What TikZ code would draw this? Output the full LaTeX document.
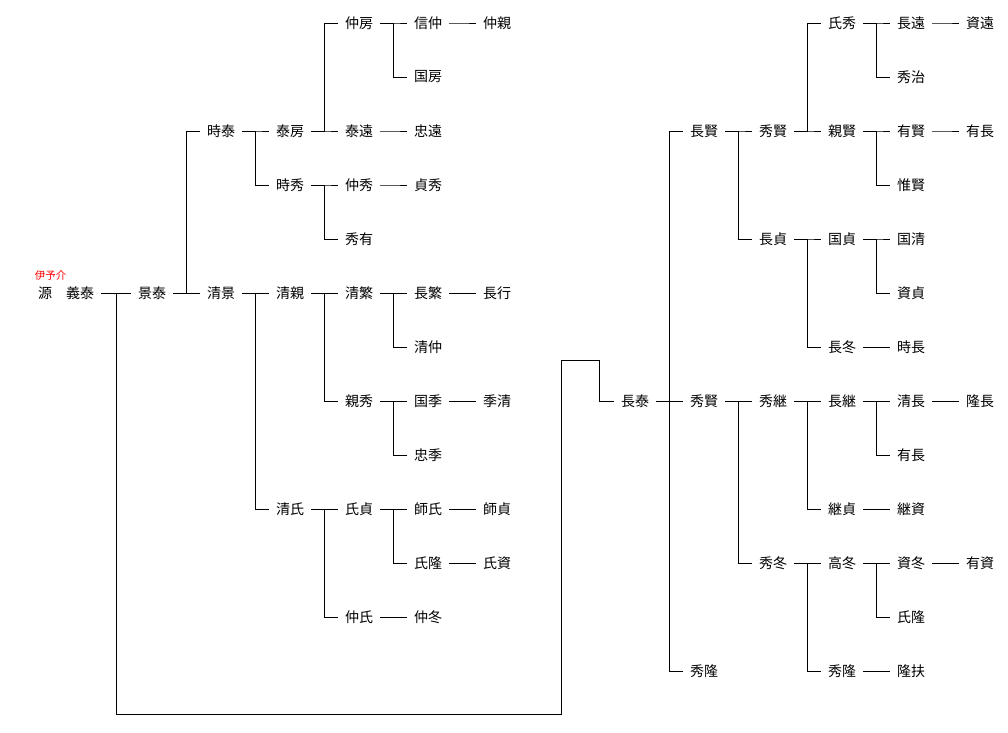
\documentclass[tikz,border=0pt]{standalone}
\usepackage{fontspec}
\newfontfamily\jp{Noto Sans CJK JP}
\begin{document}
\begin{tikzpicture}[x=1pt,y=-1pt,
  person/.style={font=\jp\fontsize{14}{14}\selectfont, inner sep=0pt, anchor=center},
  note/.style={font=\jp\fontsize{10.5}{10.5}\selectfont, inner sep=0pt, text=red},
  link/.style={draw=black, line width=0.9pt}]
\useasboundingbox[fill=white] (0,0) rectangle (1008,732);
\newcommand\kin[2]{\draw[link] ([xshift=7pt]#1.east) -- ++(13.5pt,0) |- ([xshift=-7pt]#2.west);}
% ---- left tree
\node[note] (iyo) at (50.5,276) {伊予介};
\node[person] (yosh) at (66,293) {源　義泰};
\node[person] (kage) at (152,293) {景泰};
\node[person] (toki) at (221,131) {時泰};
\node[person] (kiyokage) at (221,293) {清景};
\node[person] (yasufusa) at (290,131) {泰房};
\node[person] (tokihide) at (290,185) {時秀};
\node[person] (kiyochika) at (290,293) {清親};
\node[person] (kiyouji) at (290,509) {清氏};
\node[person] (nakafusa) at (359,23) {仲房};
\node[person] (yasutoo) at (359,131) {泰遠};
\node[person] (nakahide) at (359,185) {仲秀};
\node[person] (hidearі) at (359,239) {秀有};
\node[person] (kiyoshige) at (359,293) {清繁};
\node[person] (chikahide) at (359,401) {親秀};
\node[person] (ujisada) at (359,509) {氏貞};
\node[person] (nakauji) at (359,617) {仲氏};
\node[person] (nobunaka) at (428,23) {信仲};
\node[person] (kunifusa) at (428,77) {国房};
\node[person] (tadatoo) at (428,131) {忠遠};
\node[person] (sadahide) at (428,185) {貞秀};
\node[person] (nagashige) at (428,293) {長繁};
\node[person] (kiyonaka) at (428,347) {清仲};
\node[person] (kunisue) at (428,401) {国季};
\node[person] (tadasue) at (428,455) {忠季};
\node[person] (morouji) at (428,509) {師氏};
\node[person] (ujitaka) at (428,563) {氏隆};
\node[person] (nakafuyu) at (428,617) {仲冬};
\node[person] (nakachika) at (497,23) {仲親};
\node[person] (nagayuki) at (497,293) {長行};
\node[person] (suekiyo) at (497,401) {季清};
\node[person] (morosada) at (497,509) {師貞};
\node[person] (ujisuke) at (497,563) {氏資};
% ---- right tree
\node[person] (nagayasu) at (635,401) {長泰};
\node[person] (nagakata) at (704,131) {長賢};
\node[person] (hidekata) at (704,401) {秀賢};
\node[person] (hidetaka) at (704,671) {秀隆};
\node[person] (hidekatab) at (773,131) {秀賢};
\node[person] (nagasada) at (773,239) {長貞};
\node[person] (hidetsugu) at (773,401) {秀継};
\node[person] (hidefuyu) at (773,563) {秀冬};
\node[person] (ujihide) at (842,23) {氏秀};
\node[person] (chikakata) at (842,131) {親賢};
\node[person] (kunisada) at (842,239) {国貞};
\node[person] (nagafuyu) at (842,347) {長冬};
\node[person] (nagatsugu) at (842,401) {長継};
\node[person] (tsugusada) at (842,509) {継貞};
\node[person] (takafuyu) at (842,563) {高冬};
\node[person] (hidetakab) at (842,671) {秀隆};
\node[person] (nagatoo) at (911,23) {長遠};
\node[person] (hideharu) at (911,77) {秀治};
\node[person] (arikata) at (911,131) {有賢};
\node[person] (korekata) at (911,185) {惟賢};
\node[person] (kunikiyo) at (911,239) {国清};
\node[person] (sukesada) at (911,293) {資貞};
\node[person] (tokinaga) at (911,347) {時長};
\node[person] (kiyonaga) at (911,401) {清長};
\node[person] (arinagab) at (911,455) {有長};
\node[person] (tsugusuke) at (911,509) {継資};
\node[person] (sukefuyu) at (911,563) {資冬};
\node[person] (ujitakab) at (911,617) {氏隆};
\node[person] (takasuke) at (911,671) {隆扶};
\node[person] (suketoo) at (980,23) {資遠};
\node[person] (arinaga) at (980,131) {有長};
\node[person] (takanaga) at (980,401) {隆長};
\node[person] (arisuke) at (980,563) {有資};
% ---- connectors, left
\draw[link] ([xshift=7pt]yosh.east) -- ([xshift=-7pt]kage.west);
\coordinate (j0) at (116,293);
\coordinate (j1) at (116,714);
\coordinate (j2) at (561,714);
\coordinate (j3) at (561,360);
\coordinate (j4) at (599,360);
\draw[link] (j0) -- (j1) -- (j2) -- (j3) -- (j4) |- ([xshift=-7pt]nagayasu.west);
\kin{kage}{toki}
\kin{kage}{kiyokage}
\kin{toki}{yasufusa}
\kin{toki}{tokihide}
\kin{kiyokage}{kiyochika}
\kin{kiyokage}{kiyouji}
\kin{yasufusa}{nakafusa}
\kin{yasufusa}{yasutoo}
\kin{tokihide}{nakahide}
\kin{tokihide}{hidearі}
\kin{kiyochika}{kiyoshige}
\kin{kiyochika}{chikahide}
\kin{kiyouji}{ujisada}
\kin{kiyouji}{nakauji}
\kin{nakafusa}{nobunaka}
\kin{nakafusa}{kunifusa}
\kin{yasutoo}{tadatoo}
\kin{nakahide}{sadahide}
\kin{kiyoshige}{nagashige}
\kin{kiyoshige}{kiyonaka}
\kin{chikahide}{kunisue}
\kin{chikahide}{tadasue}
\kin{ujisada}{morouji}
\kin{ujisada}{ujitaka}
\kin{nakauji}{nakafuyu}
\kin{nobunaka}{nakachika}
\kin{nagashige}{nagayuki}
\kin{kunisue}{suekiyo}
\kin{morouji}{morosada}
\kin{ujitaka}{ujisuke}
% ---- connectors, right
\kin{nagayasu}{nagakata}
\kin{nagayasu}{hidekata}
\kin{nagayasu}{hidetaka}
\kin{nagakata}{hidekatab}
\kin{nagakata}{nagasada}
\kin{hidekata}{hidetsugu}
\kin{hidekata}{hidefuyu}
\kin{hidekatab}{ujihide}
\kin{hidekatab}{chikakata}
\kin{nagasada}{kunisada}
\kin{nagasada}{nagafuyu}
\kin{hidetsugu}{nagatsugu}
\kin{hidetsugu}{tsugusada}
\kin{hidefuyu}{takafuyu}
\kin{hidefuyu}{hidetakab}
\kin{ujihide}{nagatoo}
\kin{ujihide}{hideharu}
\kin{chikakata}{arikata}
\kin{chikakata}{korekata}
\kin{kunisada}{kunikiyo}
\kin{kunisada}{sukesada}
\kin{nagafuyu}{tokinaga}
\kin{nagatsugu}{kiyonaga}
\kin{nagatsugu}{arinagab}
\kin{tsugusada}{tsugusuke}
\kin{takafuyu}{sukefuyu}
\kin{takafuyu}{ujitakab}
\kin{hidetakab}{takasuke}
\kin{nagatoo}{suketoo}
\kin{arikata}{arinaga}
\kin{kiyonaga}{takanaga}
\kin{sukefuyu}{arisuke}
\end{tikzpicture}
\end{document}
